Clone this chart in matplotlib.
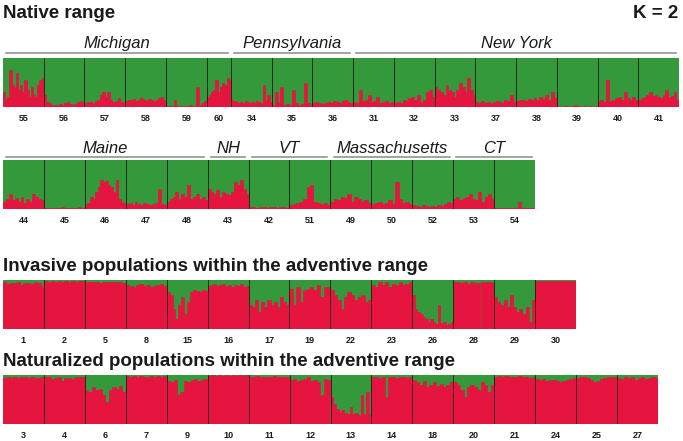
import matplotlib
matplotlib.use('Agg')
import matplotlib.pyplot as plt
import numpy as np

plt.rcParams['font.family'] = ['Liberation Sans', 'DejaVu Sans']

GREEN = '#33993a'
RED = '#e6143f'

# ---------------- data: red (cluster 2) membership in % per individual ----------------
row1_pops = ['55', '56', '57', '58', '59', '60', '34', '35', '36',
             '31', '32', '33', '37', '38', '39', '40', '41']
row1_widths = [1, 1, 1, 1, 1, 0.6, 1, 1, 1, 1, 1, 1, 1, 1, 1, 1, 1]
row1_red = [
    [30, 15, 20, 75, 45, 40, 70, 35, 45, 30, 55, 35, 20, 40, 25, 20, 45, 55, 60],
    [25, 10, 8, 5, 5, 4, 6, 5, 8, 10, 6, 5, 7, 10, 12, 8],
    [8, 10, 10, 8, 12, 15, 25, 30, 20, 30, 15, 10, 12, 18, 10, 8],
    [12, 15, 14, 16, 12, 14, 18, 15, 13, 16, 14, 12, 15, 18, 20, 14],
    [3, 2, 2, 15, 3, 2, 2, 3, 2, 4, 3, 2, 40, 5, 8, 12],
    [20, 25, 30, 35, 55, 30, 40, 50, 45, 60, 55],
    [15, 12, 10, 8, 10, 8, 12, 10, 8, 10, 8, 12, 10, 8, 45, 15, 25, 10],
    [5, 30, 8, 40, 5, 6, 5, 35, 8, 5, 6, 50, 8, 5],
    [8, 10, 8, 6, 8, 10, 8, 12, 10, 8, 12, 14, 10, 8],
    [10, 8, 35, 12, 15, 25, 10, 12, 20, 8, 10, 12, 8, 10],
    [8, 10, 8, 15, 12, 18, 20, 15, 25, 10, 15, 30, 35, 20],
    [40, 35, 30, 25, 45, 35, 30, 20, 35, 50, 40, 30, 60, 35, 25],
    [10, 8, 12, 8, 10, 8, 10, 12, 10, 8, 15, 12, 25, 10],
    [12, 15, 14, 12, 16, 15, 18, 14, 20, 16, 25, 15, 30, 18],
    [2, 1, 3, 2, 1, 2, 5, 2, 1, 2, 1, 2, 1, 2],
    [12, 15, 10, 55, 12, 15, 18, 20, 15, 30, 18, 15, 20, 15],
    [15, 18, 20, 25, 30, 22, 25, 20, 18, 25, 35, 20, 22, 30, 15],
]
row1_regions = [('Michigan', 0, 6), ('Pennsylvania', 6, 9), ('New York', 9, 17)]

row2_pops = ['44', '45', '46', '47', '48', '43', '42', '51', '49', '50', '52', '53', '54']
row2_widths = [1] * 13
row2_red = [
    [15, 20, 30, 18, 22, 15, 25, 12, 20, 15, 30, 25, 20, 18],
    [3, 2, 2, 3, 2, 4, 3, 2, 3, 2, 4, 3],
    [10, 12, 25, 20, 35, 45, 60, 55, 58, 50, 45, 35, 60, 20, 15, 12],
    [10, 12, 8, 15, 10, 8, 12, 10, 8, 10, 12, 40, 10, 8],
    [15, 20, 25, 35, 20, 30, 25, 50, 20, 25, 30, 20, 25, 18],
    [40, 35, 30, 38, 25, 35, 30, 28, 35, 55, 50, 60, 40, 30],
    [5, 4, 3, 5, 4, 3, 4, 5, 3, 4, 5, 3],
    [8, 10, 12, 15, 20, 45, 50, 15, 12, 10, 12, 8],
    [15, 20, 18, 25, 22, 30, 15, 25, 20, 15, 18, 12],
    [10, 12, 15, 10, 12, 18, 10, 55, 20, 12, 15, 10],
    [8, 6, 5, 8, 6, 5, 6, 5, 8, 6, 10, 15, 12],
    [20, 25, 18, 22, 25, 30, 20, 18, 35, 15, 25, 30, 20],
    [2, 3, 2, 3, 2, 2, 3, 15, 2, 3, 2, 3],
]
row2_regions = [('Maine', 0, 5), ('NH', 5, 6), ('VT', 6, 8),
                ('Massachusetts', 8, 11), ('CT', 11, 13)]

inv_pops = ['1', '2', '5', '8', '15', '16', '17', '19', '22', '23', '26', '28', '29', '30']
inv_widths = [1] * 14
inv_red = [
    [95, 92, 94, 93, 95, 90, 94, 93, 92, 95, 93, 88],
    [97, 96, 97, 95, 97, 96, 97, 96, 97, 96, 97, 98],
    [96, 95, 96, 95, 94, 96, 95, 96, 95, 96, 95, 94],
    [90, 88, 85, 90, 92, 88, 90, 85, 88, 90, 92, 88],
    [75, 70, 40, 20, 50, 65, 30, 55, 75, 80, 78, 75, 80, 78],
    [88, 90, 92, 88, 90, 92, 88, 90, 85, 90, 88, 92, 85, 88],
    [50, 45, 60, 35, 55, 45, 60, 50, 55, 45, 65, 55, 50],
    [82, 50, 85, 55, 80, 82, 85, 80, 90, 65, 85, 85],
    [80, 70, 60, 40, 65, 75, 70, 60, 65, 70, 55, 60],
    [90, 85, 95, 90, 95, 85, 92, 90, 95, 90, 92, 95],
    [70, 40, 35, 30, 25, 20, 15, 20, 15, 10, 50, 12, 15, 8, 10, 15],
    [96, 95, 94, 96, 92, 95, 94, 93, 95, 96, 95, 94],
    [65, 55, 50, 60, 45, 70, 45, 35, 40, 30, 45, 15, 60],
    [98, 97, 98, 97, 98, 97, 98, 97, 98, 97, 98, 97],
]

nat_pops = ['3', '4', '6', '7', '9', '10', '11', '12', '13', '14', '18', '20',
            '21', '24', '25', '27']
nat_widths = [1] * 16
nat_red = [
    [94, 95, 93, 96, 94, 95, 96, 94, 95, 93, 94, 95],
    [96, 95, 92, 94, 95, 88, 94, 93, 92, 95, 96, 95],
    [70, 65, 75, 70, 72, 60, 45, 70, 75, 72, 78, 65],
    [97, 96, 97, 95, 97, 96, 95, 97, 96, 97, 96, 97],
    [88, 85, 90, 60, 65, 88, 85, 90, 92, 88, 90, 92],
    [98, 99, 98, 99, 98, 99, 98, 99, 98, 99, 98, 99],
    [96, 95, 97, 96, 95, 96, 95, 97, 96, 95, 96, 95],
    [90, 92, 88, 90, 92, 95, 88, 90, 85, 60, 92, 90],
    [55, 40, 30, 25, 28, 22, 20, 35, 20, 22, 18, 60, 20, 65, 18],
    [95, 96, 94, 95, 55, 95, 96, 94, 95, 96, 94, 95],
    [90, 85, 80, 88, 75, 80, 85, 78, 82, 75, 80, 85],
    [85, 80, 70, 55, 75, 80, 75, 70, 85, 80, 65, 80],
    [96, 97, 96, 97, 96, 95, 96, 97, 96, 95, 94, 96],
    [92, 90, 92, 88, 90, 89, 87, 85, 88, 90, 92, 93],
    [94, 96, 95, 93, 90, 85, 88, 92, 94, 95, 96, 95],
    [94, 92, 95, 93, 96, 90, 94, 95, 92, 94, 95, 93],
]

# ---------------- layout ----------------
W, H = 683, 441
fig = plt.figure(figsize=(W / 100, H / 100), dpi=100)


def add_axes_px(left, top, right, bottom):
    return fig.add_axes([left / W, (H - bottom) / H, (right - left) / W, (bottom - top) / H])


def draw_row(ax, pops, reds, widths):
    ax.set_facecolor(GREEN)
    x0 = 0.0
    centers = []
    bounds = [0.0]
    for vals, w in zip(reds, widths):
        n = len(vals)
        bw = w / n
        xs = x0 + bw * (np.arange(n) + 0.5)
        r = np.array(vals) / 100.0
        ax.bar(xs, 1 - r, bottom=r, width=bw, color=GREEN, edgecolor=GREEN, linewidth=0.5)
        ax.bar(xs, r, width=bw, color=RED, edgecolor=RED, linewidth=0.5)
        centers.append(x0 + w / 2)
        x0 += w
        bounds.append(x0)
    for b in bounds[1:-1]:
        ax.axvline(b, color='#1a1a1a', lw=0.6)
    ax.set_xlim(0, x0)
    ax.set_ylim(0, 1)
    ax.set_xticks(centers)
    ax.set_xticklabels(pops, fontsize=6.5, fontweight='bold', color='#1a1a1a')
    ax.tick_params(axis='x', length=0, pad=5)
    ax.set_yticks([])
    for s in ax.spines.values():
        s.set_visible(False)
    return bounds


def draw_regions(ax, regions, bounds, line_px, text_px, inset=0.08):
    tr = ax.get_xaxis_transform()
    for name, i0, i1 in regions:
        xa, xb = bounds[i0] + inset, bounds[i1] - inset
        ax.plot([xa, xb], [1 + line_px / 49, 1 + line_px / 49], color='#8a8a8a', lw=1.1,
                transform=tr, clip_on=False)
        ax.text((xa + xb) / 2, 1 + text_px / 49, name, transform=tr, ha='center',
                va='baseline', fontsize=12, fontstyle='italic', color='#1a1a1a')


ax1 = add_axes_px(3, 58, 679, 107)
b1 = draw_row(ax1, row1_pops, row1_red, row1_widths)
draw_regions(ax1, row1_regions, b1, 5, 10)

ax2 = add_axes_px(3, 160, 535, 209)
b2 = draw_row(ax2, row2_pops, row2_red, row2_widths)
draw_regions(ax2, row2_regions, b2, 3, 7)

ax3 = add_axes_px(3, 280, 576, 329)
draw_row(ax3, inv_pops, inv_red, inv_widths)

ax4 = add_axes_px(3, 375, 658, 424)
draw_row(ax4, nat_pops, nat_red, nat_widths)

title_kw = dict(fontsize=13.5, fontweight='bold', color='#1a1a1a', va='baseline')
fig.text(3 / W, (H - 18) / H, 'Native range', ha='left', **title_kw)
fig.text(678 / W, (H - 18) / H, 'K = 2', ha='right', **title_kw)
fig.text(3 / W, (H - 271) / H, 'Invasive populations within the adventive range', ha='left', **title_kw)
fig.text(3 / W, (H - 366) / H, 'Naturalized populations within the adventive range', ha='left', **title_kw)

fig.savefig('out.png', dpi=100)
